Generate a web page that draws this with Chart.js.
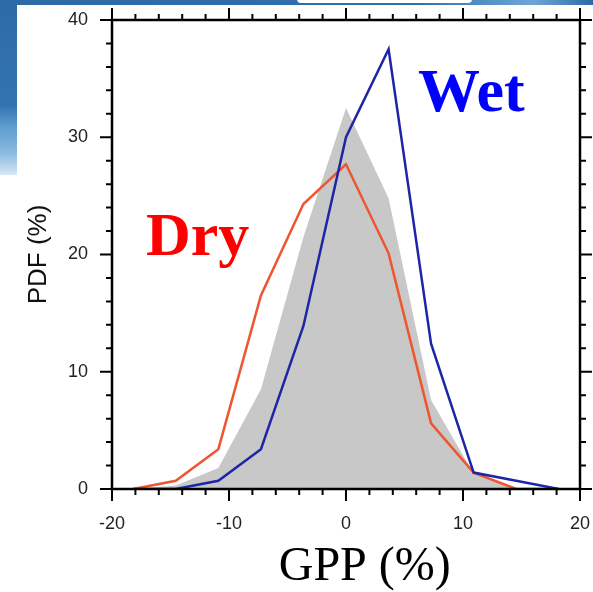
<!DOCTYPE html>
<html>
<head>
<meta charset="utf-8">
<script src="https://cdn.jsdelivr.net/npm/chart.js@4"></script>
<style>
  html, body { margin: 0; padding: 0; background: #fff; }
  #wrap { position: relative; width: 593px; height: 592px; overflow: hidden; background: #fff; }
  /* slide decoration behind the figure */
  #band { position: absolute; left: 0; top: 0; width: 593px; height: 5px;
          background: linear-gradient(90deg, #2d6aa6 0%, #2f70ad 70%, #6fa6d6 90%, #2d6aa6 100%); }
  #tab { position: absolute; left: 297px; top: -8px; width: 175px; height: 11px;
         background: #fff; border-radius: 4px; }
  #side { position: absolute; left: 0; top: 0; width: 17px; height: 175px;
          background: linear-gradient(180deg, #2d6aa6 0%, #3274b0 60%, #5c9bd0 72%, #8cbce2 88%, #d8e8f4 100%); }
  canvas { position: absolute; left: 0; top: 0; }
</style>
</head>
<body>
<div id="wrap">
  <div id="band"></div>
  <div id="tab"></div>
  <div id="side"></div>
  <canvas id="pdf-chart" width="593" height="592"></canvas>
</div>
<script>
// bin centres of GPP anomaly (%)
const binCenters = [-18.18, -14.55, -10.91, -7.27, -3.64, 0, 3.64, 7.27, 10.91, 14.55, 18.18];
// PDF (%) per bin
const allPdf = [0, 0.3, 1.8, 8.5, 21.5, 32.5, 24.8, 7.6, 1.3, 0, 0];
const dryPdf = [0, 0.7, 3.4, 16.5, 24.3, 27.7, 20.1, 5.6, 1.4, 0, 0];
const wetPdf = [0, 0, 0.7, 3.4, 13.9, 30.0, 37.5, 12.4, 1.4, 0.7, 0];
const xTicks = [-20, -10, 0, 10, 20];
const yTicks = [0, 10, 20, 30, 40];

const toPoints = ys => binCenters.map((x, i) => ({x: x, y: ys[i]}));

// outward major/minor ticks and the frame on all four sides
const frameTicks = {
    id: 'frameTicks',
    afterDatasetsDraw(chart) {
        const {ctx, chartArea: a, scales: {x, y}} = chart;
        ctx.save();
        ctx.strokeStyle = '#000';
        ctx.lineWidth = 2;
        ctx.beginPath();
        for (let v = -20; v <= 20; v += 2) {
            const px = x.getPixelForValue(v);
            const len = v % 10 === 0 ? 12 : 6;
            ctx.moveTo(px, a.bottom); ctx.lineTo(px, a.bottom + len);
            ctx.moveTo(px, a.top); ctx.lineTo(px, a.top - len);
        }
        for (let v = 0; v <= 40; v += 2) {
            const py = y.getPixelForValue(v);
            const len = v % 10 === 0 ? 12 : 6;
            ctx.moveTo(a.left, py); ctx.lineTo(a.left - len, py);
            ctx.moveTo(a.right, py); ctx.lineTo(a.right + len, py);
        }
        ctx.stroke();
        ctx.lineWidth = 2.5;
        ctx.strokeRect(a.left, a.top, a.right - a.left, a.bottom - a.top);
        ctx.restore();
    },
    afterDraw(chart) {
        const {ctx, scales: {x, y}} = chart;
        ctx.save();
        ctx.textBaseline = 'alphabetic';
        ctx.textAlign = 'left';
        ctx.font = 'bold 62px "Liberation Serif"';
        ctx.fillStyle = '#ff0000';
        ctx.fillText('Dry', x.getPixelForValue(-17.1), y.getPixelForValue(20));
        ctx.fillStyle = '#0000ff';
        ctx.fillText('Wet', x.getPixelForValue(6.15), y.getPixelForValue(32.2));
        ctx.font = '48px "Liberation Serif"';
        ctx.fillStyle = '#000';
        ctx.textAlign = 'center';
        ctx.fillText('GPP (%)', x.getPixelForValue(1.6), 580);
        ctx.restore();
    }
};

new Chart(document.getElementById('pdf-chart'), {
    type: 'line',
    data: {
        datasets: [
            {
                label: 'Wet',
                data: toPoints(wetPdf),
                borderColor: '#1f26a6',
                borderWidth: 2.5,
                pointRadius: 0,
                tension: 0,
                fill: false,
                order: 1
            },
            {
                label: 'Dry',
                data: toPoints(dryPdf),
                borderColor: '#ee5533',
                borderWidth: 2.5,
                pointRadius: 0,
                tension: 0,
                fill: false,
                order: 2
            },
            {
                label: 'All',
                data: toPoints(allPdf),
                borderWidth: 0,
                borderColor: 'rgba(0,0,0,0)',
                backgroundColor: '#c8c8c8',
                pointRadius: 0,
                tension: 0,
                fill: 'origin',
                order: 3
            }
        ]
    },
    options: {
        responsive: false,
        animation: false,
        layout: { padding: { top: 20, right: 13, left: 0, bottom: 0 } },
        plugins: {
            legend: { display: false },
            tooltip: { enabled: false }
        },
        scales: {
            x: {
                type: 'linear',
                min: -20,
                max: 20,
                afterBuildTicks: s => { s.ticks = xTicks.map(v => ({value: v})); },
                afterFit: s => { s.height = 103; s.paddingLeft = 0; s.paddingRight = 0; },
                grid: { display: false, drawTicks: false },
                border: { display: false },
                ticks: {
                    padding: 24,
                    color: '#222',
                    font: { family: '"Liberation Sans"', size: 18 }
                }
            },
            y: {
                min: 0,
                max: 40,
                afterBuildTicks: s => { s.ticks = yTicks.map(v => ({value: v})); },
                afterFit: s => { s.width = 112; s.paddingTop = 0; s.paddingBottom = 0; },
                grid: { display: false, drawTicks: false },
                border: { display: false },
                ticks: {
                    padding: 24,
                    color: '#222',
                    font: { family: '"Liberation Sans"', size: 18 }
                },
                title: {
                    display: true,
                    text: 'PDF (%)',
                    color: '#111',
                    padding: { top: 23, bottom: 0 },
                    font: { family: '"Liberation Sans"', size: 26 }
                }
            }
        }
    },
    plugins: [frameTicks]
});
</script>
</body>
</html>
